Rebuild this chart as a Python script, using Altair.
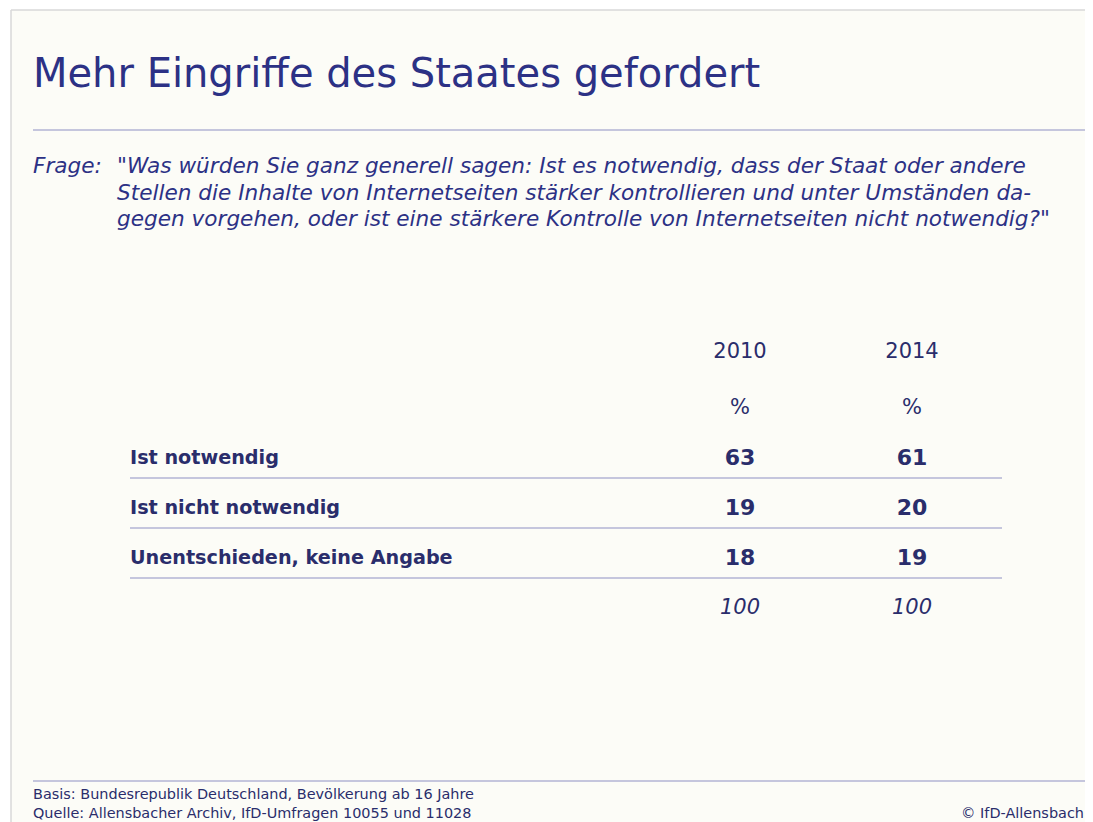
import altair as alt
import pandas as pd

# ---- data ----
title_text = "Mehr Eingriffe des Staates gefordert"
frage_label = "Frage:"
question_lines = [
    "\"Was würden Sie ganz generell sagen: Ist es notwendig, dass der Staat oder andere",
    " Stellen die Inhalte von Internetseiten stärker kontrollieren und unter Umständen da-",
    " gegen vorgehen, oder ist eine stärkere Kontrolle von Internetseiten nicht notwendig?\"",
]
years = ["2010", "2014"]
answers = ["Ist notwendig", "Ist nicht notwendig", "Unentschieden, keine Angabe"]
values_2010 = [63, 19, 18]
values_2014 = [61, 20, 19]
totals = [100, 100]
footer_lines = [
    "Basis: Bundesrepublik Deutschland, Bevölkerung ab 16 Jahre",
    "Quelle: Allensbacher Archiv, IfD-Umfragen 10055 und 11028",
]
copyright_text = "© IfD-Allensbach"

# ---- tables ----
row_keys = ["header", "pct"] + answers + ["total"]
cells = []
for y, v in zip(years, [values_2010, values_2014]):
    for a, val in zip(answers, v):
        cells.append({"row": a, "year": y, "txt": str(val)})
cells_df = pd.DataFrame(cells)
header_df = pd.DataFrame({"row": ["header"] * len(years), "year": years, "txt": years})
pct_df = pd.DataFrame({"row": ["pct"] * len(years), "year": years, "txt": ["%"] * len(years)})
total_df = pd.DataFrame({"row": ["total"] * len(years), "year": years, "txt": [str(t) for t in totals]})
labels_df = pd.DataFrame({"row": answers, "txt": answers})
one = pd.DataFrame({"k": [0]})

FONT = "DejaVu Sans"
NAVY = "#2c3185"
DARK = "#2a2d6b"
RULE = "#b3b5d4"
BORDER = "#d9d9d9"

W, H = 1077, 814

yscale = alt.Scale(domain=row_keys, range=[325, 625], paddingInner=0, paddingOuter=0)
xscale = alt.Scale(domain=years, range=[732, 904], padding=0)
Y = alt.Y("row:N", scale=yscale, axis=None)
X = alt.X("year:N", scale=xscale, axis=None)

panel = alt.Chart(one).mark_rect(fill="#fcfcf7").encode(
    x=alt.value(3), x2=alt.value(W), y=alt.value(2), y2=alt.value(H)
)
border_left = alt.Chart(one).mark_rule(color=BORDER, strokeWidth=1.5).encode(
    x=alt.value(3), y=alt.value(2), y2=alt.value(H)
)
border_top = alt.Chart(one).mark_rule(color=BORDER, strokeWidth=1.5).encode(
    x=alt.value(3), x2=alt.value(W), y=alt.value(2)
)

title = alt.Chart(one).mark_text(
    font=FONT, fontSize=40, color=NAVY, align="left", baseline="alphabetic"
).encode(x=alt.value(25), y=alt.value(79), text=alt.value(title_text))

title_rule = alt.Chart(one).mark_rule(color=RULE, strokeWidth=1.5).encode(
    x=alt.value(25), x2=alt.value(W), y=alt.value(122)
)

frage = alt.Chart(one).mark_text(
    font=FONT, fontSize=21.6, fontStyle="italic", color=NAVY, align="left", baseline="alphabetic"
).encode(x=alt.value(25), y=alt.value(165), text=alt.value(frage_label))

question = alt.Chart(one).mark_text(
    font=FONT, fontSize=21.6, fontStyle="italic", color=NAVY, align="left",
    baseline="alphabetic", lineHeight=26.5
).encode(x=alt.value(109), y=alt.value(165), text=alt.value(question_lines))

header = alt.Chart(header_df).mark_text(
    font=FONT, fontSize=21, color=DARK, baseline="middle", dy=-6
).encode(x=X, y=Y, text="txt:N")

pct = alt.Chart(pct_df).mark_text(
    font=FONT, fontSize=21, color=DARK, baseline="middle"
).encode(x=X, y=Y, text="txt:N")

vals = alt.Chart(cells_df).mark_text(
    font=FONT, fontSize=22, fontWeight="bold", color=DARK, baseline="middle"
).encode(x=X, y=Y, text="txt:N")

tot = alt.Chart(total_df).mark_text(
    font=FONT, fontSize=21, fontStyle="italic", color=DARK, baseline="middle"
).encode(x=X, y=Y, text="txt:N")

labels = alt.Chart(labels_df).mark_text(
    font=FONT, fontSize=19.2, fontWeight="bold", color=DARK, baseline="middle", align="left"
).encode(x=alt.value(122), y=Y, text="txt:N")

rules = alt.Chart(labels_df).mark_rule(color=RULE, strokeWidth=1.5).encode(
    x=alt.value(122), x2=alt.value(994), y=alt.Y("row:N", scale=yscale, axis=None, bandPosition=0.9)
)

footer_rule = alt.Chart(one).mark_rule(color=RULE, strokeWidth=1.5).encode(
    x=alt.value(25), x2=alt.value(W), y=alt.value(773)
)

footer = alt.Chart(one).mark_text(
    font=FONT, fontSize=14.45, color=DARK, align="left", baseline="alphabetic", lineHeight=19
).encode(x=alt.value(25), y=alt.value(791), text=alt.value(footer_lines))

copyright_mark = alt.Chart(one).mark_text(
    font=FONT, fontSize=14.45, color=DARK, align="right", baseline="alphabetic"
).encode(x=alt.value(1076), y=alt.value(810), text=alt.value(copyright_text))

chart = alt.layer(
    panel, border_left, border_top, title, title_rule, frage, question, rules, header, pct,
    vals, tot, labels, footer_rule, footer, copyright_mark
).properties(
    width=W, height=H, padding=0, autosize=alt.AutoSizeParams(type="none"),
    background="white"
).configure_view(stroke=None)

chart.save("out.html", embed_options={"renderer": "svg", "actions": False})
